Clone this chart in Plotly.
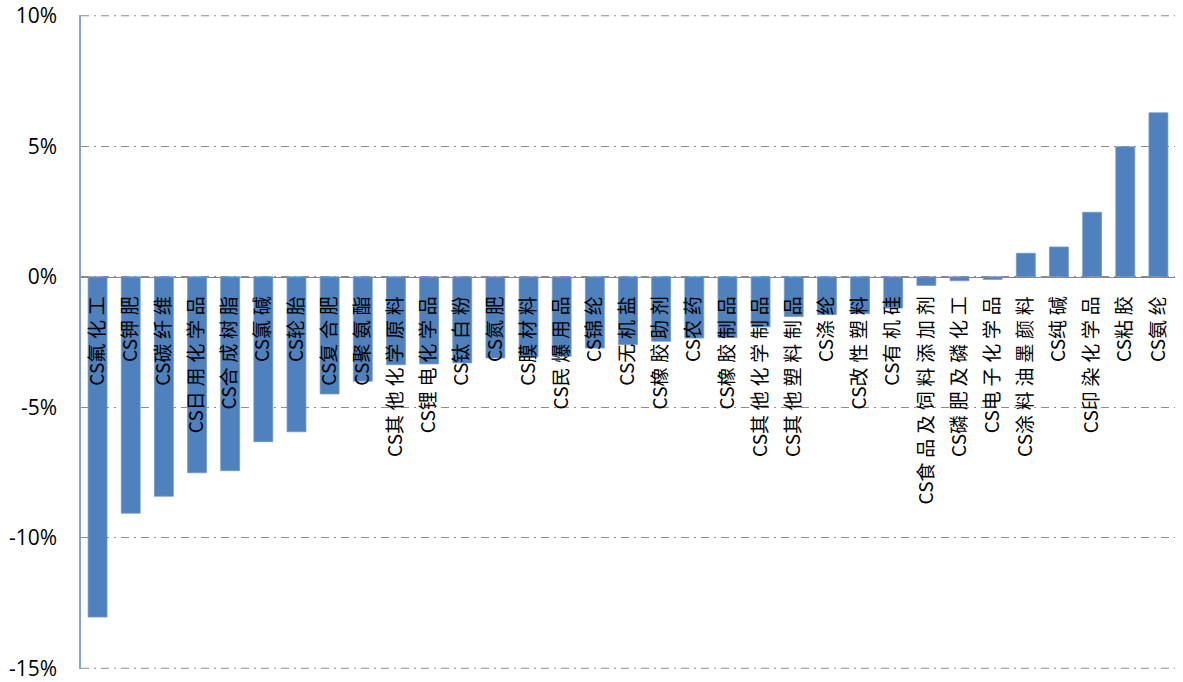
import plotly.graph_objects as go

# Sector names (CITIC chemical sub-industries) and period returns, %
categories = [
    "CS氟化工", "CS钾肥", "CS碳纤维", "CS日用化学品", "CS合成树脂", "CS氯碱",
    "CS轮胎", "CS复合肥", "CS聚氨酯", "CS其他化学原料", "CS锂电化学品", "CS钛白粉",
    "CS氮肥", "CS膜材料", "CS民爆用品", "CS锦纶", "CS无机盐", "CS橡胶助剂",
    "CS农药", "CS橡胶制品", "CS其他化学制品", "CS其他塑料制品", "CS涤纶", "CS改性塑料",
    "CS有机硅", "CS食品及饲料添加剂", "CS磷肥及磷化工", "CS电子化学品", "CS涂料油墨颜料",
    "CS纯碱", "CS印染化学品", "CS粘胶", "CS氨纶",
]
returns_pct = [
    -13.04, -9.06, -8.41, -7.51, -7.43, -6.32,
    -5.94, -4.49, -4.00, -3.37, -3.34, -3.30,
    -3.11, -3.07, -3.05, -2.73, -2.60, -2.47,
    -2.35, -2.33, -1.92, -1.52, -1.45, -1.41,
    -1.20, -0.33, -0.15, -0.10, 0.90,
    1.14, 2.47, 4.98, 6.28,
]
y_ticks = [-15, -10, -5, 0, 5, 10]
y_tick_text = ["-15%", "-10%", "-5%", "0%", "5%", "10%"]
y_edges = [-15, 10]

GRID_COLOR = "#8c8c8c"
GRID_DASH = "8px,5px,2px,5px"


def spaced(name):
    # widen the CJK glyph spacing a little, leaving the "CS" prefix intact
    return name[:3] + "".join("\u2005" + ch for ch in name[3:])


tick_text = [spaced(c) for c in categories]

fig = go.Figure(
    go.Bar(
        x=categories,
        y=returns_pct,
        marker=dict(color="#4f81bd", line=dict(color="#6f97c9", width=0.8)),
        hoverinfo="x+y",
    )
)

# gridlines on the top and bottom edges of the plot area
for edge in y_edges:
    fig.add_shape(
        type="line", xref="paper", yref="y",
        x0=0, x1=1, y0=edge, y1=edge,
        line=dict(color=GRID_COLOR, width=1, dash=GRID_DASH),
        layer="below",
    )

fig.update_layout(
    width=1183,
    height=682,
    margin=dict(l=81, r=8, t=15, b=13),
    paper_bgcolor="white",
    plot_bgcolor="white",
    bargap=0.43,
    showlegend=False,
    font=dict(family="Noto Sans CJK SC", color="black"),
    xaxis=dict(
        type="category",
        tickmode="array",
        tickvals=categories,
        ticktext=tick_text,
        tickangle=-90,
        tickfont=dict(family="Noto Sans CJK SC", size=19, color="black"),
        ticks="",
        ticklabelstandoff=11,
        showgrid=False,
        showline=True,
        linecolor="#868686",
        linewidth=1,
        anchor="free",
        position=0.6,
        range=[-0.5, len(categories) - 0.5],
        automargin=False,
        fixedrange=True,
    ),
    yaxis=dict(
        range=[y_edges[0] - 0.03, y_edges[1] + 0.03],
        tickmode="array",
        tickvals=y_ticks,
        ticktext=y_tick_text,
        tickfont=dict(family="Open Sans", size=21, color="black"),
        ticks="",
        ticklabelstandoff=18,
        showgrid=True,
        gridcolor=GRID_COLOR,
        gridwidth=1,
        griddash=GRID_DASH,
        zeroline=False,
        showline=True,
        linecolor="#7fa3d3",
        linewidth=1.5,
        automargin=False,
        fixedrange=True,
    ),
)

fig.write_html("out.html")
